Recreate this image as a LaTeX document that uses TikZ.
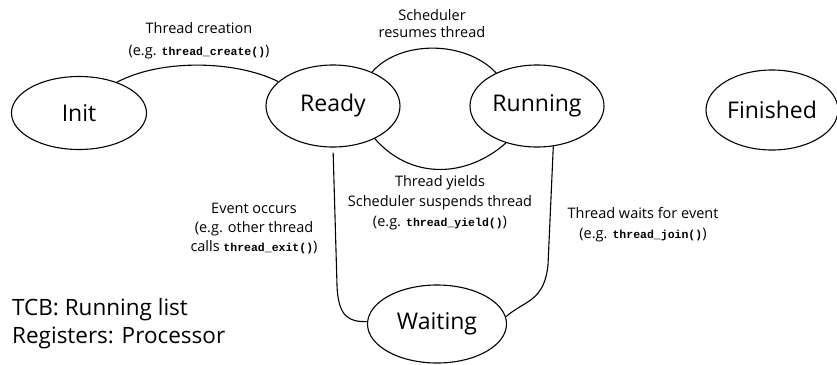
\documentclass[tikz,border=0pt]{standalone}
\usepackage{fontspec}
\setmainfont{Open Sans}
\setmonofont{Liberation Mono}
\usetikzlibrary{shapes.geometric}
\newcommand\code[1]{{\ttfamily\bfseries\fontsize{11.5}{13}\selectfont #1}}
\begin{document}
\begin{tikzpicture}[x=1pt,y=-1pt,
  state/.style={ellipse, draw, line width=1.1pt, inner sep=0pt, font=\fontsize{23}{26}\selectfont},
  conn/.style={line width=1.1pt},
  lbl/.style={align=center, inner sep=0pt}]
\useasboundingbox (0,0) rectangle (837,364);

\node[state, minimum width=135pt, minimum height=73pt] (init) at (79,113) {Init};
\node[state, minimum width=134pt, minimum height=82pt] (ready) at (333,106) {Ready};
\node[state, minimum width=134pt, minimum height=82pt] (running) at (537,106) {Running};
\node[state, minimum width=132pt, minimum height=80pt] (finished) at (772,110) {Finished};
\node[state, minimum width=139pt, minimum height=78pt] (waiting) at (437,324) {Waiting};

\draw[conn] (init.39) .. controls (160,59) and (235,60) .. (ready.156);
\draw[conn] (ready.41) .. controls (400,40) and (465,40) .. (running.141);
\draw[conn] (ready.-38) .. controls (410,179) and (465,179) .. (running.-130);
\draw[conn, shorten <=5pt] (ready.south) -- (337,285) .. controls (338,318) and (350,322) .. (waiting.178);
\draw[conn] (running.-68) -- (548,265) .. controls (544,302) and (525,300) .. (waiting.6);

\node[lbl, font=\fontsize{14.5}{22}\selectfont] (lcreate) at (199,41) {Thread creation\\(e.g. \code{thread\_create()})};
\node[lbl, font=\fontsize{14.5}{17}\selectfont] (lresume) at (432,23.5) {Scheduler\\resumes thread};
\node[lbl, font=\fontsize{14.5}{20}\selectfont] (lyield) at (440,203) {Thread yields\\Scheduler suspends thread\\(e.g. \code{thread\_yield()})};
\node[lbl, font=\fontsize{14.5}{19}\selectfont] (levent) at (254,229) {Event occurs\\(e.g. other thread\\calls \code{thread\_exit()})};
\node[lbl, font=\fontsize{14.5}{20}\selectfont] (lwait) at (643,225) {Thread waits for event\\(e.g. \code{thread\_join()})};
\node[lbl, align=left, anchor=west, font=\fontsize{22.5}{28}\selectfont] (tcb) at (12,324) {TCB: Running list\\Registers: Processor};
\end{tikzpicture}
\end{document}
